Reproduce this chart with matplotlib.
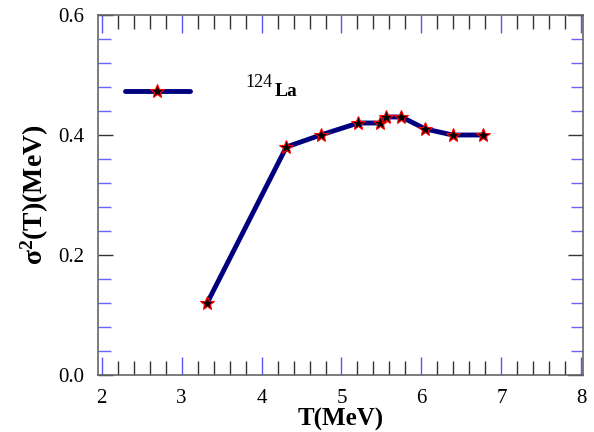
import matplotlib
matplotlib.use("Agg")
from matplotlib import pyplot as plt
from matplotlib.ticker import MultipleLocator

plt.rcParams['font.family'] = ['Liberation Serif', 'DejaVu Serif']
plt.rcParams['mathtext.fontset'] = 'custom'
plt.rcParams['mathtext.rm'] = 'Liberation Serif'
plt.rcParams['mathtext.bf'] = 'Liberation Serif:bold'

# 数据
T = [3.32, 4.31, 4.74, 5.21, 5.48, 5.56, 5.75, 6.05, 6.39, 6.77]
sigma2 = [0.12, 0.38, 0.40, 0.42, 0.42, 0.43, 0.43, 0.41, 0.40, 0.40]
x_ticks = [2, 3, 4, 5, 6, 7, 8]
y_ticks = [0.0, 0.2, 0.4, 0.6]
legend_x = [2.29, 3.10]
legend_y = [0.473, 0.473]

fig = plt.figure(figsize=(5.94, 4.32), dpi=100)
ax = fig.add_axes([98 / 594, 57 / 432, 485 / 594, 360 / 432])

line_kw = dict(color='#00007f', linewidth=3.5, solid_capstyle='round')
star_kw = dict(marker='*', markersize=10, markerfacecolor='black',
               markeredgecolor='red', markeredgewidth=0.8, linestyle='none')

ax.plot(T, sigma2, **line_kw)
ax.plot(T, sigma2, **star_kw)

#  图例
ax.plot(legend_x, legend_y, **line_kw)
ax.plot([sum(legend_x) / 2], [legend_y[0]], **star_kw)
ax.text(3.80, 0.474, '124', fontsize=13, ha='left', va='bottom')
ax.text(4.17, 0.459, 'La', fontsize=14, fontweight='bold', ha='left', va='bottom')

ax.set_xlim(1.955, 8.02)
ax.set_ylim(0, 0.6)
ax.set_xticks(x_ticks)
ax.set_yticks(y_ticks)
ax.set_yticklabels(['0.0', '0.2', '0.4', '0.6'])
ax.xaxis.set_minor_locator(MultipleLocator(0.2))
ax.yaxis.set_minor_locator(MultipleLocator(0.04))

#  刻度
ax.tick_params(axis='x', which='major', direction='in', length=13, width=1,
               color='#5555ff', top=True, labelsize=15, pad=10)
ax.tick_params(axis='x', which='minor', direction='in', length=10, width=1,
               color='#333333', top=True)
ax.tick_params(axis='y', which='major', direction='in', length=11, width=1,
               color='#333333', right=True, labelsize=15, pad=10)
ax.tick_params(axis='y', which='minor', direction='in', length=9, width=1,
               color='#6666ff', right=True)
for s in ax.spines.values():
    s.set_color('#666666')
    s.set_linewidth(1.2)

ax.set_xlabel('T(MeV)', fontsize=18, fontweight='bold', labelpad=0)
ax.set_ylabel(r'$\mathbf{\sigma^2}$(T)(MeV)', fontsize=20, fontweight='bold', labelpad=5)

fig.savefig('out.png', dpi=100)
